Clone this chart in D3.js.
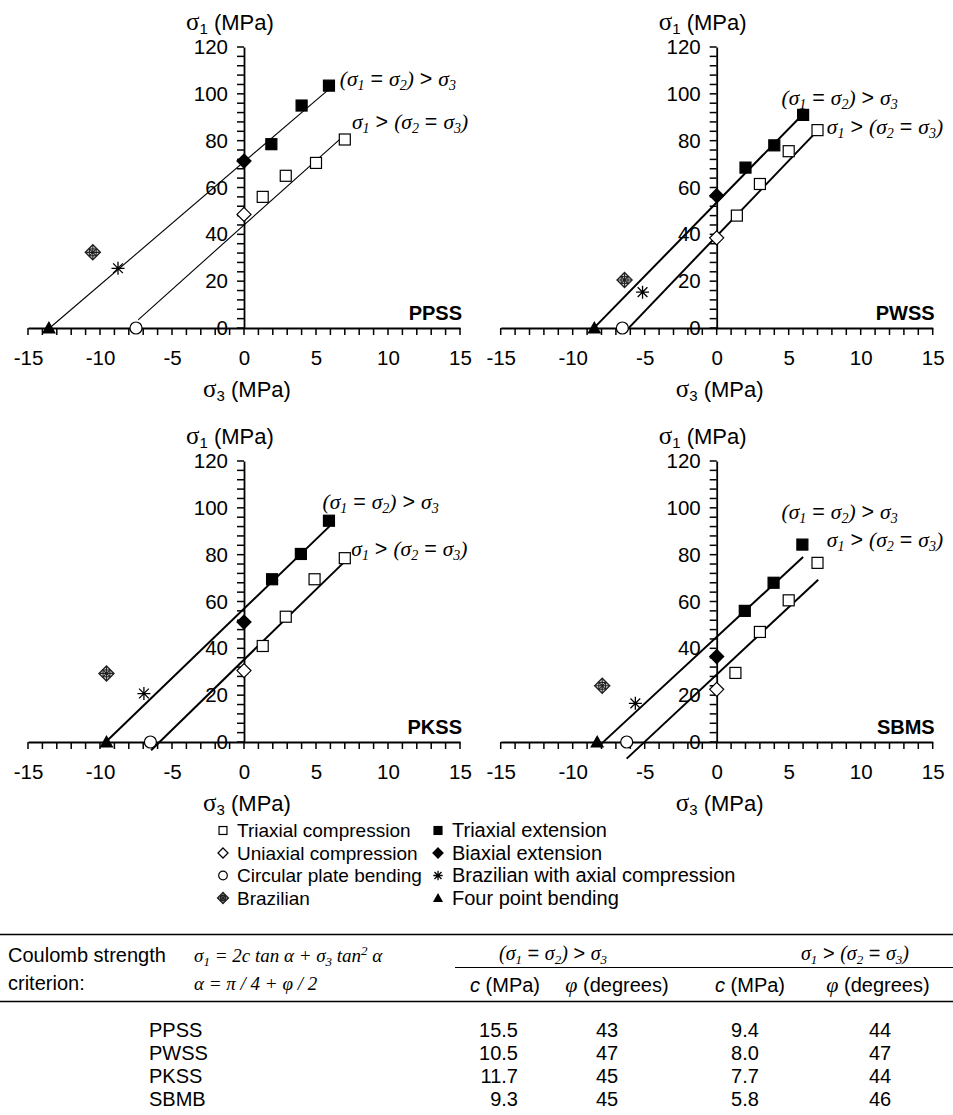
<!DOCTYPE html>
<html lang="en">
<head>
<meta charset="UTF-8">
<title>Coulomb strength criterion</title>
<style>
  body { margin: 0; background: #fff; }
  svg { display: block; font-family: "Liberation Sans", Arial, sans-serif; }
</style>
<script src="https://d3js.org/d3.v7.min.js"></script>
</head>
<body>
<div id="chart"></div>
<script>
// ---- data (sigma3, sigma1 in MPa), one entry per panel ----
const panelNames = ["PPSS", "PWSS", "PKSS", "SBMS"];

const triaxialCompression = [
  [[1.3, 56], [2.9, 65], [5, 70.5], [7, 80.5]],
  [[1.4, 48], [3, 61.5], [5, 75.5], [7, 84.5]],
  [[1.3, 41], [2.9, 53.5], [4.9, 69.5], [7, 78.5]],
  [[1.3, 29.5], [3, 47], [5, 60.5], [7, 76.5]]
];
const triaxialExtension = [
  [[1.9, 78.5], [4, 95], [5.9, 103.5]],
  [[2, 68.5], [4, 78], [6, 91]],
  [[1.95, 69.5], [3.95, 80.3], [5.9, 94.5]],
  [[1.95, 56], [3.95, 68], [5.95, 84.3]]
];
const uniaxialCompression = [[0, 48.5], [0, 38.5], [0, 30.5], [0, 22.5]];
const biaxialExtension = [[0, 71.3], [0, 56.5], [0, 51.2], [0, 36.5]];
const circularPlateBending = [[-7.5, 0], [-6.55, 0], [-6.5, 0], [-6.25, 0]];
const brazilian = [[-10.5, 32.3], [-6.4, 20.5], [-9.55, 29.3], [-7.95, 24]];
const brazilianAxial = [[-8.75, 25.5], [-5.15, 15.3], [-6.95, 20.7], [-5.65, 16.5]];
const fourPointBending = [[-13.55, 0], [-8.5, 0], [-9.55, 0], [-8.3, 0]];

// Coulomb fits, end points
const extensionLine = [
  [[-13.5, 0], [5.85, 101.7]],
  [[-8.6, -0.5], [5.75, 89.8]],
  [[-9.6, 0], [5.95, 92.2]],
  [[-8, -0.7], [6, 79]]
];
const compressionLine = [
  [[-7.35, 3.5], [7, 82.5]],
  [[-6.25, -0.9], [7.05, 84.6]],
  [[-6.45, -3.5], [6.9, 76.5]],
  [[-6.25, -7.1], [7.05, 69.3]]
];

const xTicks = d3.range(-15, 16, 1);
const yTicks = d3.range(0, 121, 4);

// table
const tableRocks = ["PPSS", "PWSS", "PKSS", "SBMB"];
const cExtension = [15.5, 10.5, 11.7, 9.3];
const phiExtension = [43, 47, 45, 45];
const cCompression = [9.4, 8.0, 7.7, 5.8];
const phiCompression = [44, 47, 44, 46];

// ---- layout ----
const W = 953, H = 1115;
const panelPos = [            // left end of x axis, y of sigma1 = 0
  { x0: 28, y0: 328 }, { x0: 500.7, y0: 328 },
  { x0: 28, y0: 742 }, { x0: 500.7, y0: 742 }
];
const PW = 432, PH = 281;
const lineWidth = [1.1, 2, 2, 2];
// label anchors in data units (start of text, middle)
const labelAt = [
  { up: [6.65, 106], lo: [7.5, 87.7] },
  { up: [4.5, 97.9], lo: [7.65, 85.5] },
  { up: [5.45, 101.9], lo: [7.45, 81.9] },
  { up: [4.5, 97.9], lo: [7.65, 85.7] }
];

const SANS = '"Liberation Sans", Arial, sans-serif';
const SERIF = '"Liberation Serif", "Times New Roman", serif';

const svg = d3.select("#chart").append("svg")
  .attr("width", W).attr("height", H);
svg.append("rect").attr("width", W).attr("height", H).attr("fill", "#fff");

// text with sub/superscripts
function rich(sel, parts, small) {
  let shift = 0;
  parts.forEach(p => {
    const target = p.sub ? 4 : p.sup ? -7 : 0;
    const ts = sel.append("tspan").text(p.t);
    if (target !== shift) ts.attr("dy", target - shift);
    if (p.sub || p.sup) ts.attr("font-size", small);
    else if (p.size) ts.attr("font-size", p.size);
    if (p.f) ts.attr("font-family", p.f);
    if (p.it !== undefined) ts.attr("font-style", p.it ? "italic" : "normal");
    shift = target;
  });
}

const sig = n => [{ t: "σ", f: SERIF, size: 25 }, { t: String(n), sub: true }];
const labelExt = [{ t: "(σ" }, { t: "1", sub: true }, { t: " = ", f: SANS, it: false }, { t: "σ" }, { t: "2", sub: true }, { t: ")" }, { t: " > ", f: SANS, it: false }, { t: "σ" }, { t: "3", sub: true }];
const labelComp = [{ t: "σ" }, { t: "1", sub: true }, { t: " > ", f: SANS, it: false }, { t: "(σ" }, { t: "2", sub: true }, { t: " = ", f: SANS, it: false }, { t: "σ" }, { t: "3", sub: true }, { t: ")" }];

// markers
function marker(g, type, cx, cy, s) {
  const m = g.append("g").attr("transform", `translate(${cx},${cy})`);
  const k = s || 1;
  if (type === "sqOpen" || type === "sqFill") {
    const a = 5.5 * k;
    m.append("rect").attr("x", -a).attr("y", -a).attr("width", 2 * a).attr("height", 2 * a)
      .attr("fill", type === "sqFill" ? "#000" : "#fff").attr("stroke", "#000").attr("stroke-width", 1.2);
  } else if (type === "diaOpen" || type === "diaFill") {
    const r = 7 * k;
    m.append("path").attr("d", `M0,${-r}L${r},0L0,${r}L${-r},0Z`)
      .attr("fill", type === "diaFill" ? "#000" : "#fff").attr("stroke", "#000").attr("stroke-width", 1.2);
  } else if (type === "circle") {
    m.append("circle").attr("r", 6 * k).attr("fill", "#fff").attr("stroke", "#000").attr("stroke-width", 1.2);
  } else if (type === "tri") {
    const a = 7 * k;
    m.append("path").attr("d", `M0,${-a}L${a},${a * 0.8}L${-a},${a * 0.8}Z`).attr("fill", "#000");
  } else if (type === "star") {
    const r = 6.5 * k, d = r * 0.75;
    m.append("path").attr("d", `M0,${-r}V${r}M${-d},${-d}L${d},${d}M${-d},${d}L${d},${-d}M${-r},0H${r}`)
      .attr("stroke", "#000").attr("stroke-width", 1.3).attr("fill", "none");
  } else if (type === "braz") {
    const r = 7.5 * k, q = 3.4 * k;
    m.append("path").attr("d", `M0,${-r}L${r},0L0,${r}L${-r},0Z`)
      .attr("fill", "#ddd").attr("stroke", "#222").attr("stroke-width", 1.4);
    m.append("rect").attr("x", -q).attr("y", -q).attr("width", 2 * q).attr("height", 2 * q)
      .attr("fill", "none").attr("stroke", "#222").attr("stroke-width", 1.1);
    const d = r * 0.5;
    m.append("path").attr("d", `M0,${-r}V${r}M${-r},0H${r}M${-d},${-d}L${d},${d}M${-d},${d}L${d},${-d}`)
      .attr("stroke", "#222").attr("stroke-width", 1.1);
  }
}

// ---- panels ----
panelNames.forEach((name, i) => {
  const p = panelPos[i];
  const x = d3.scaleLinear().domain([-15, 15]).range([p.x0, p.x0 + PW]);
  const y = d3.scaleLinear().domain([0, 120]).range([p.y0, p.y0 - PH]);
  const g = svg.append("g");

  // axes: d3 axis for the line and labels, ticks drawn below
  const xa = g.append("g").attr("transform", `translate(0,${y(0)})`)
    .call(d3.axisBottom(x).tickValues(xTicks).tickSize(7).tickSizeOuter(0).tickPadding(15)
      .tickFormat(d => d % 5 === 0 ? String(d) : ""));
  const ya = g.append("g").attr("transform", `translate(${x(0)},0)`)
    .call(d3.axisLeft(y).tickValues(yTicks).tickSize(7).tickSizeOuter(0).tickPadding(9)
      .tickFormat(d => d % 20 === 0 ? String(d) : ""));
  [xa, ya].forEach(a => {
    a.selectAll("text").attr("font-family", SANS).attr("font-size", 20.5).attr("fill", "#000");
    a.selectAll(".tick line").remove();
    a.select(".domain").attr("stroke", "#000").attr("stroke-width", 1.8);
  });
  g.append("g").selectAll("line").data(xTicks).join("line")
    .attr("x1", d => x(d)).attr("x2", d => x(d))
    .attr("y1", y(0)).attr("y2", y(0) + 7)
    .attr("stroke", "#000").attr("stroke-width", 1.5);
  g.append("g").selectAll("line").data(yTicks).join("line")
    .attr("x1", x(0) - 7).attr("x2", x(0))
    .attr("y1", d => y(d)).attr("y2", d => y(d))
    .attr("stroke", "#000").attr("stroke-width", 1.5);

  // axis titles
  rich(g.append("text").attr("x", x(0) - 58).attr("y", y(0) - 298)
    .attr("font-size", 22).attr("font-family", SANS), [...sig(1), { t: " (MPa)" }], 15);
  rich(g.append("text").attr("x", x(0) + 3).attr("y", y(0) + 69).attr("text-anchor", "middle")
    .attr("font-size", 22).attr("font-family", SANS), [...sig(3), { t: " (MPa)" }], 15);

  // fitted lines
  [extensionLine[i], compressionLine[i]].forEach(l => {
    g.append("line")
      .attr("x1", x(l[0][0])).attr("y1", y(l[0][1]))
      .attr("x2", x(l[1][0])).attr("y2", y(l[1][1]))
      .attr("stroke", "#000").attr("stroke-width", lineWidth[i]);
  });

  // labels
  rich(g.append("text").attr("x", x(labelAt[i].up[0])).attr("y", y(labelAt[i].up[1]) + 6)
    .attr("font-family", SERIF).attr("font-style", "italic").attr("font-size", 21.5), labelExt, 14);
  rich(g.append("text").attr("x", x(labelAt[i].lo[0])).attr("y", y(labelAt[i].lo[1]) + 6)
    .attr("font-family", SERIF).attr("font-style", "italic").attr("font-size", 21.5), labelComp, 14);

  g.append("text").attr("x", x(15) + 2).attr("y", y(0) - 8).attr("text-anchor", "end")
    .attr("font-weight", "bold").attr("font-size", 20).text(name);

  // points
  const pts = (arr, type) => arr.forEach(d => marker(g, type, x(d[0]), y(d[1])));
  pts(triaxialCompression[i], "sqOpen");
  pts(triaxialExtension[i], "sqFill");
  pts([uniaxialCompression[i]], "diaOpen");
  pts([biaxialExtension[i]], "diaFill");
  pts([circularPlateBending[i]], "circle");
  pts([brazilian[i]], "braz");
  pts([brazilianAxial[i]], "star");
  pts([fourPointBending[i]], "tri");
});

// ---- legend ----
const legendItems = [
  ["sqOpen", "Triaxial compression"], ["diaOpen", "Uniaxial compression"],
  ["circle", "Circular plate bending"], ["braz", "Brazilian"],
  ["sqFill", "Triaxial extension"], ["diaFill", "Biaxial extension"],
  ["star", "Brazilian with axial compression"], ["tri", "Four point bending"]
];
const lg = svg.append("g");
legendItems.forEach((it, j) => {
  const col = Math.floor(j / 4), row = j % 4;
  const mx = col ? 438 : 223, ty = 837 + row * 22.5;
  marker(lg, it[0], mx, ty - 6.5, 0.72);
  lg.append("text").attr("x", mx + 14).attr("y", ty).attr("font-size", col ? 20 : 19).text(it[1]);
});

// ---- table ----
const tb = svg.append("g").attr("font-size", 20);
tb.append("line").attr("x1", 0).attr("x2", W).attr("y1", 934.5).attr("y2", 934.5).attr("stroke", "#000").attr("stroke-width", 1.5);
tb.append("line").attr("x1", 455).attr("x2", W).attr("y1", 967.5).attr("y2", 967.5).attr("stroke", "#000").attr("stroke-width", 1.2);
tb.append("line").attr("x1", 0).attr("x2", W).attr("y1", 1001.5).attr("y2", 1001.5).attr("stroke", "#000").attr("stroke-width", 1.5);

tb.append("text").attr("x", 8).attr("y", 962).text("Coulomb strength");
tb.append("text").attr("x", 8).attr("y", 990).text("criterion:");

rich(tb.append("text").attr("x", 194).attr("y", 962).attr("font-family", SERIF).attr("font-style", "italic").attr("font-size", 19),
  [{ t: "σ" }, { t: "1", sub: true }, { t: " = 2c tan α + σ" }, { t: "3", sub: true }, { t: " tan" }, { t: "2", sup: true }, { t: " α" }], 13);
rich(tb.append("text").attr("x", 194).attr("y", 990).attr("font-family", SERIF).attr("font-style", "italic").attr("font-size", 19),
  [{ t: "α = π / 4 + φ / 2" }], 13);

const grpX = [553, 855];
[labelExt, labelComp].forEach((lab, j) => {
  rich(tb.append("text").attr("x", grpX[j]).attr("y", 960).attr("text-anchor", "middle")
    .attr("font-family", SERIF).attr("font-style", "italic").attr("font-size", 20), lab, 13);
});

const colX = [505, 617, 750, 878];
colX.forEach((cx, j) => {
  const t = tb.append("text").attr("x", cx).attr("y", 992).attr("text-anchor", "middle");
  if (j % 2 === 0) rich(t, [{ t: "c", it: true }, { t: " (MPa)" }], 14);
  else rich(t, [{ t: "φ", f: SERIF, it: true, size: 22 }, { t: "  (degrees)" }], 14);
});

const f1 = d3.format(".1f");
tableRocks.forEach((r, k) => {
  const yy = 1037 + k * 23;
  tb.append("text").attr("x", 149).attr("y", yy).text(r);
  tb.append("text").attr("x", 518).attr("y", yy).attr("text-anchor", "end").text(f1(cExtension[k]));
  tb.append("text").attr("x", 607).attr("y", yy).attr("text-anchor", "middle").text(phiExtension[k]);
  tb.append("text").attr("x", 745).attr("y", yy).attr("text-anchor", "middle").text(f1(cCompression[k]));
  tb.append("text").attr("x", 880).attr("y", yy).attr("text-anchor", "middle").text(phiCompression[k]);
});
</script>
</body>
</html>
